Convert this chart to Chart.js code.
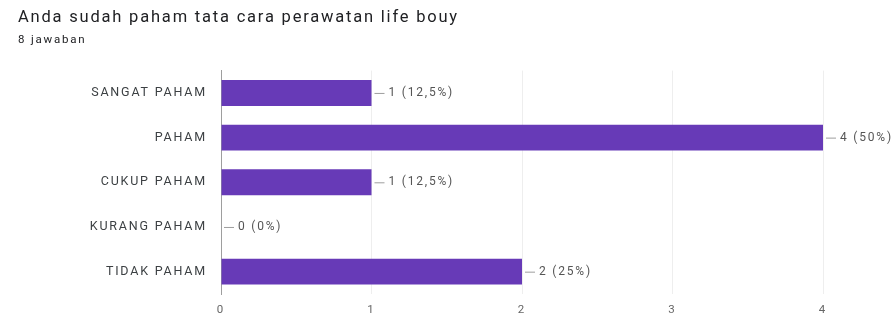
<!DOCTYPE html>
<html>
<head>
<meta charset="utf-8">
<script src="https://cdn.jsdelivr.net/npm/chart.js@4/dist/chart.umd.min.js"></script>
<style>
  html, body { margin: 0; padding: 0; background: #ffffff; }
  #wrap { position: relative; width: 894px; height: 320px; }
</style>
</head>
<body>
<div id="wrap"><canvas id="c" width="894" height="320"></canvas></div>
<script>
// Survey question and answer options
const questionTitle = 'Anda sudah paham tata cara perawatan life bouy';
const categories = ['SANGAT PAHAM', 'PAHAM', 'CUKUP PAHAM', 'KURANG PAHAM', 'TIDAK PAHAM'];
// Number of respondents per option
const counts = [1, 4, 1, 0, 2];
// Value-axis ticks
const xTicks = [0, 1, 2, 3, 4];

const total = counts.reduce((a, b) => a + b, 0);
const FONT = "Roboto, 'Liberation Sans', Arial, sans-serif";

function labelFor(v) {
  const pct = Math.round(v / total * 1000) / 10;
  return v + ' (' + String(pct).replace('.', ',') + '%)';
}

// Slightly tracked-out lettering for all text on the canvas
const tracking = {
  id: 'tracking',
  beforeDraw(chart) { chart.ctx.letterSpacing = '1.8px'; }
};

// Draws "n (p%)" with a short leader line at the end of each bar
const valueLabels = {
  id: 'valueLabels',
  afterDatasetsDraw(chart) {
    const ctx = chart.ctx;
    const meta = chart.getDatasetMeta(0);
    ctx.save();
    ctx.font = '12px ' + FONT;
    ctx.textBaseline = 'middle';
    meta.data.forEach((bar, i) => {
      const x = bar.x, y = bar.y;
      ctx.strokeStyle = '#9e9e9e';
      ctx.lineWidth = 1;
      ctx.beginPath();
      ctx.moveTo(x + 3, y + 0.5);
      ctx.lineTo(x + 13, y + 0.5);
      ctx.stroke();
      ctx.fillStyle = '#555555';
      ctx.textAlign = 'left';
      ctx.fillText(labelFor(counts[i]), x + 17, y);
    });
    ctx.restore();
  }
};

new Chart(document.getElementById('c'), {
  type: 'bar',
  data: {
    labels: categories,
    datasets: [{
      data: counts,
      backgroundColor: '#673ab7',
      borderWidth: 0,
      barPercentage: 0.58,
      categoryPercentage: 1.0
    }]
  },
  options: {
    indexAxis: 'y',
    responsive: false,
    animation: false,
    devicePixelRatio: 1,
    layout: { padding: { top: 0, left: 18, right: 71, bottom: 0 } },
    plugins: {
      legend: { display: false },
      tooltip: { enabled: false },
      title: {
        display: true,
        text: questionTitle,
        align: 'start',
        color: '#202124',
        font: { family: FONT, size: 16.5, weight: 'normal' },
        padding: { top: 8, bottom: 4 }
      },
      subtitle: {
        display: true,
        text: total + ' jawaban',
        align: 'start',
        color: '#202124',
        font: { family: FONT, size: 11.5, weight: 'normal' },
        padding: { top: 1, bottom: 24 }
      }
    },
    scales: {
      x: {
        type: 'linear',
        min: xTicks[0],
        max: xTicks[xTicks.length - 1],
        afterBuildTicks(scale) { scale.ticks = xTicks.map(v => ({ value: v })); },
        afterFit(scale) { scale.height = 26; },
        ticks: {
          color: '#666666',
          font: { family: FONT, size: 11.5 },
          padding: 9
        },
        grid: {
          drawTicks: false,
          color: (c) => c.index === 0 ? 'rgba(0,0,0,0)' : '#eeeeee'
        },
        border: { display: false }
      },
      y: {
        afterFit(scale) { scale.width = 203; },
        ticks: {
          color: '#3c4043',
          font: { family: FONT, size: 12.5 },
          padding: 14
        },
        grid: { display: false, drawTicks: false },
        border: { display: true, color: '#9e9e9e', width: 1 }
      }
    }
  },
  plugins: [tracking, valueLabels]
});
</script>
</body>
</html>
